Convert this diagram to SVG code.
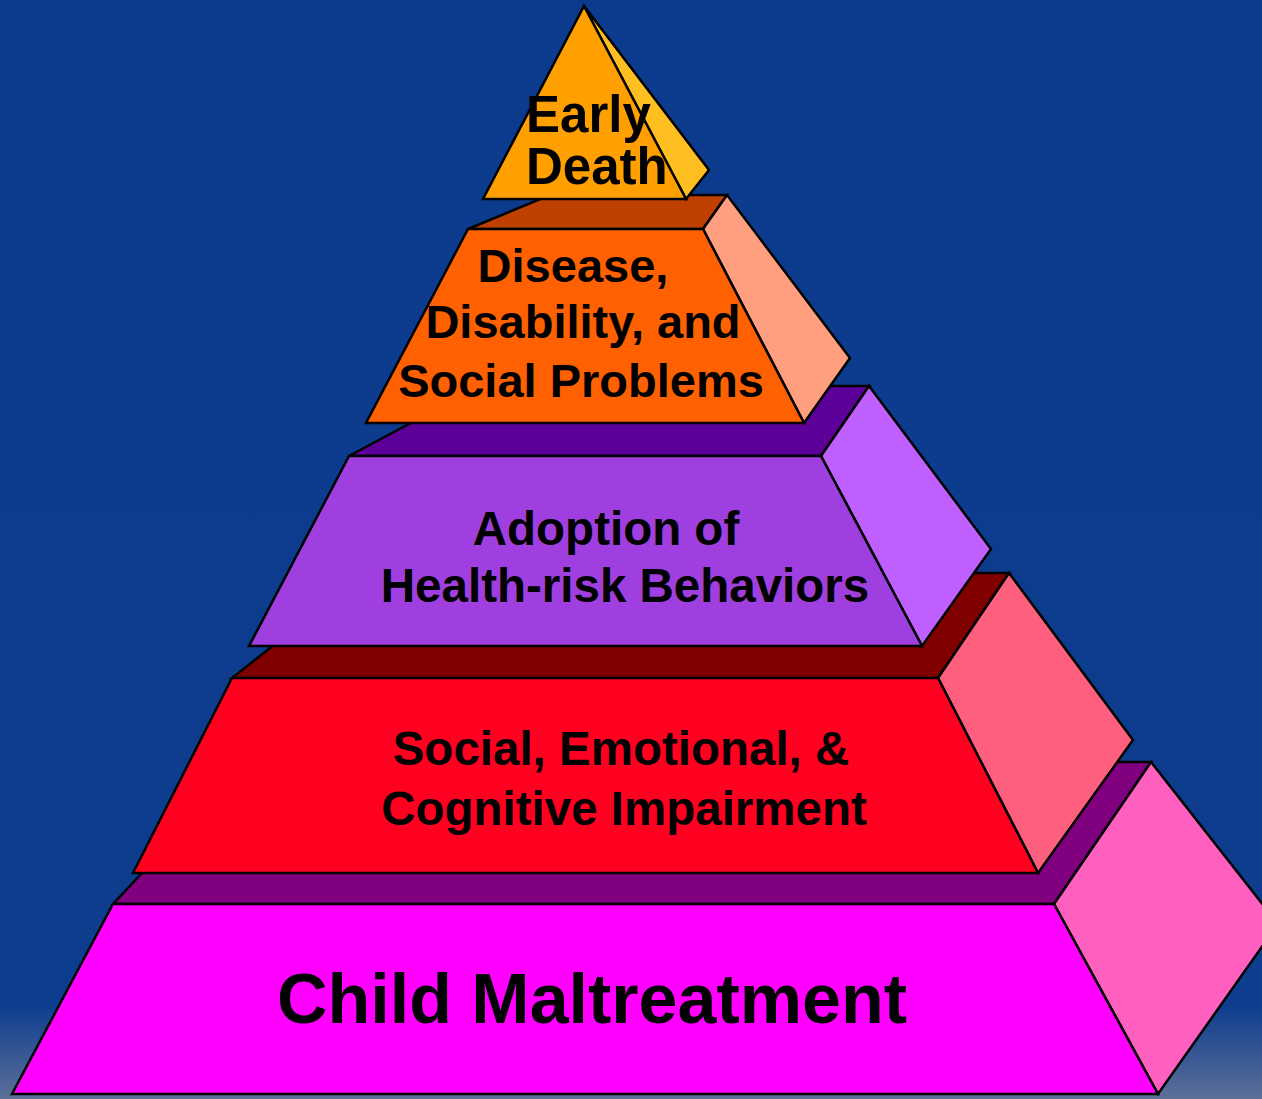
<svg xmlns="http://www.w3.org/2000/svg" width="1262" height="1099" viewBox="0 0 1262 1099">
<defs>
<linearGradient id="bg" x1="0" y1="0" x2="0" y2="1099" gradientUnits="userSpaceOnUse">
<stop offset="0" stop-color="#0C3B8E"/>
<stop offset="0.915" stop-color="#0E3D8E"/>
<stop offset="1" stop-color="#5C6F98"/>
</linearGradient>
<style>
.e{stroke:#000;stroke-width:2.5;stroke-linejoin:miter}
.t{font-family:"Liberation Sans",Arial,sans-serif;font-weight:bold;fill:#000}
</style>
</defs>
<rect x="0" y="0" width="1262" height="1099" fill="url(#bg)"/>

<g id="layer5">
<polygon class="e" fill="#800080" points="113,904 246,762 1151,762 1054,904"/>
<polygon class="e" fill="#FF5FBF" points="1054,904 1151,762 1278,924 1158,1094"/>
<polygon class="e" fill="#FF00FF" points="113,904 1054,904 1158,1094 12,1094"/>
<text class="t" x="592" y="1023" font-size="70" text-anchor="middle">Child Maltreatment</text>
</g>

<g id="layer4">
<polygon class="e" fill="#800000" points="232,678 365,573 1009,573 938,678"/>
<polygon class="e" fill="#FF5F7F" points="938,678 1009,573 1133,740 1038,873"/>
<polygon class="e" fill="#FF0020" points="232,678 938,678 1038,873 133,873"/>
<text class="t" x="621" y="765" font-size="47.5" text-anchor="middle">Social, Emotional, &amp;</text>
<text class="t" x="624" y="825" font-size="47.5" text-anchor="middle">Cognitive Impairment</text>
</g>

<g id="layer3">
<polygon class="e" fill="#5C0099" points="349,456 480,386 869,386 821,456"/>
<polygon class="e" fill="#BF5FFF" points="821,456 869,386 991,549 922,646"/>
<polygon class="e" fill="#9F3FDF" points="349,456 821,456 922,646 249,646"/>
<text class="t" x="606" y="545" font-size="47.5" text-anchor="middle">Adoption of</text>
<text class="t" x="625" y="602" font-size="47.5" text-anchor="middle">Health-risk Behaviors</text>
</g>

<g id="layer2">
<polygon class="e" fill="#BF4000" points="468,229 550,195 727,195 703,229"/>
<polygon class="e" fill="#FF9F7F" points="703,229 727,195 850,358 804,423"/>
<polygon class="e" fill="#FF6000" points="468,229 703,229 804,423 366,423"/>
<text class="t" x="573" y="282" font-size="47" text-anchor="middle">Disease,</text>
<text class="t" x="583" y="338" font-size="47" text-anchor="middle">Disability, and</text>
<text class="t" x="581" y="397" font-size="47" text-anchor="middle">Social Problems</text>
</g>

<g id="layer1">
<polygon class="e" fill="#FFBF20" points="584,6 709,170 686,199"/>
<polygon class="e" fill="#FFA000" points="584,6 686,199 483,199"/>
<text class="t" x="526" y="132" font-size="51">Early</text>
<text class="t" x="526" y="184" font-size="51">Death</text>
</g>

<g id="connectors"></g>
</svg>
